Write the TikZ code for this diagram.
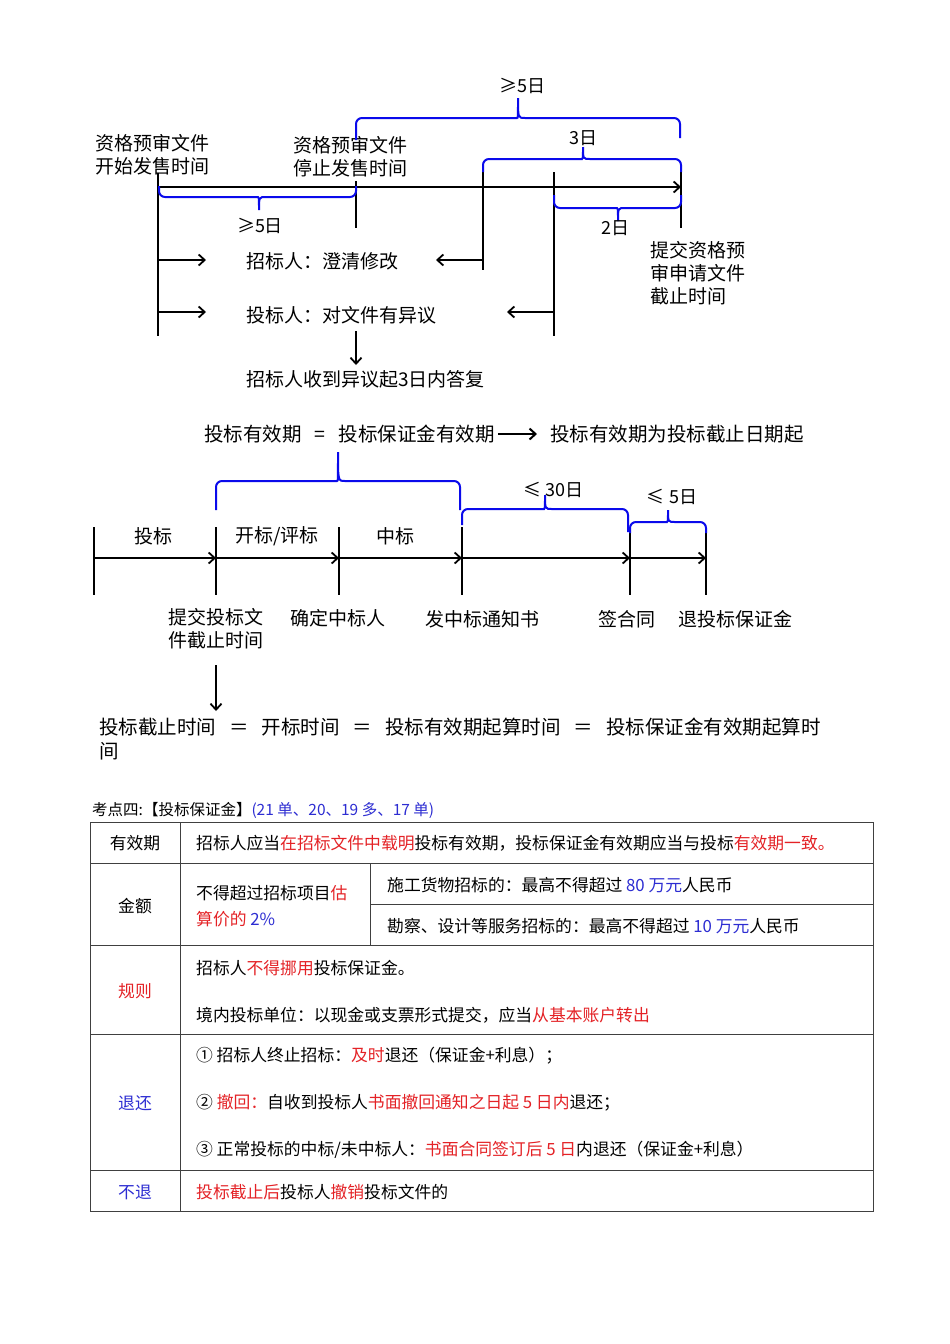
\documentclass[tikz,border=0pt]{standalone}
\usepackage{fontspec}
\setmainfont{Noto Sans CJK SC}
\usetikzlibrary{arrows.meta}
\definecolor{bbl}{RGB}{10,10,235}
\definecolor{tred}{RGB}{228,34,38}
\definecolor{tblue}{RGB}{45,45,210}
\newcommand\dgfont{\fontsize{19}{23}\selectfont}
\newcommand\tbfont{\fontsize{16.8}{26}\selectfont}
\newcommand\redt[1]{\textcolor{tred}{#1}}
\newcommand\bluet[1]{\textcolor{tblue}{#1}}
% brace: x1, x2, xm, yleft, yright, yh, ytip
\newcommand\hbrace[7]{%
  \draw[brc] (#1,#4) -- (#1,#6) -- ({#3-7},#6) [sharp corners] .. controls (#3,#6) .. (#3,#7) .. controls (#3,#6) .. ({#3+7},#6) [rounded corners=6pt] -- (#2,#6) -- (#2,#5);}
\tikzset{
  ln/.style={line width=1.8pt, black},
  arr/.style={ln, -{Straight Barb[length=6pt,width=11pt]}},
  brc/.style={line width=2pt, bbl, rounded corners=6pt},
  dg/.style={inner sep=0pt, font=\dgfont, align=left},
  tb/.style={inner sep=0pt, font=\tbfont, align=left, anchor=west},
  tl/.style={line width=1pt, black!75},
}
\begin{document}
\begin{tikzpicture}[x=1pt,y=-1pt]
\fill[white] (0,0) rectangle (950,1344);
\useasboundingbox (0,0) rectangle (950,1344);

% ================= Diagram 1 =================
\coordinate (a0) at (158,187);
\coordinate (aE) at (681,187);
\draw[arr] (a0) -- (aE);
\draw[ln] (158,173) -- (158,336);
\draw[ln] (356,181) -- (356,228);
\draw[ln] (483,172) -- (483,270);
\draw[ln] (554,172) -- (554,336);
\draw[ln] (681,172) -- (681,228);

\node[dg, anchor=west] (s1) at (95,155) {资格预审文件\\开始发售时间};
\node[dg, anchor=west] (s2) at (293,157) {资格预审文件\\停止发售时间};
\node[dg, anchor=west] (s3) at (650,273) {提交资格预\\审申请文件\\截止时间};

\node[dg, anchor=west] (m1) at (246,261) {招标人：澄清修改};
\node[dg, anchor=west] (m2) at (246,315) {投标人：对文件有异议};
\node[dg, anchor=west] (m3) at (246,379) {招标人收到异议起3日内答复};

\coordinate (r1a) at (158,260); \coordinate (r1b) at (206,260);
\coordinate (r2a) at (158,312); \coordinate (r2b) at (206,312);
\coordinate (l1a) at (483,260); \coordinate (l1b) at (436,260);
\coordinate (l2a) at (554,312); \coordinate (l2b) at (507,312);
\coordinate (d1a) at (356,331); \coordinate (d1b) at (356,365);
\draw[arr] (r1a) -- (r1b);
\draw[arr] (r2a) -- (r2b);
\draw[arr] (l1a) -- (l1b);
\draw[arr] (l2a) -- (l2b);
\draw[arr] (d1a) -- (d1b);

\hbrace{159}{356}{259}{186}{186}{197}{210}
\hbrace{356}{680}{518}{140}{138}{118}{98}
\hbrace{483}{681}{583}{172}{172}{159}{147}
\hbrace{554}{681}{618}{195}{195}{208}{221}

\node[dg, font=\fontsize{18}{20}\selectfont] (b1) at (260,226) {≥5日};
\node[dg, font=\fontsize{18}{20}\selectfont] (b2) at (522,86) {≥5日};
\node[dg, font=\fontsize{18}{20}\selectfont] (b3) at (583,138) {3日};
\node[dg, font=\fontsize{18}{20}\selectfont] (b4) at (615,228) {2日};

% ================= Diagram 2 =================
\node[dg, anchor=west, font=\fontsize{19.5}{23}\selectfont] (h1) at (204,434) {投标有效期\hspace{13pt}=\hspace{13pt}投标保证金有效期};
\node[dg, anchor=west, font=\fontsize{19.5}{23}\selectfont] (h2) at (550,434) {投标有效期为投标截止日期起};
\coordinate (ha) at (498,434); \coordinate (hb) at (537,434);
\draw[arr, line width=2pt] (ha) -- (hb);

\foreach \x in {94,216,339,462} \draw[ln] (\x,527) -- (\x,595);
\foreach \x in {630,706} \draw[ln] (\x,532) -- (\x,595);
\coordinate (p1) at (94,558);
\coordinate (p2) at (216,558);
\coordinate (p3) at (339,558);
\coordinate (p4) at (462,558);
\coordinate (p5) at (630,558);
\coordinate (p6) at (706,558);
\draw[arr] (p1) -- (p2);
\draw[arr] (p2) -- (p3);
\draw[arr] (p3) -- (p4);
\draw[arr] (p4) -- (p5);
\draw[arr] (p5) -- (p6);

\node[dg] (g1) at (153,536) {投标};
\node[dg] (g2) at (277,536) {开标/评标};
\node[dg] (g3) at (395,536) {中标};

\hbrace{216}{460}{338}{510}{510}{481}{452}
\hbrace{462}{628}{545}{525}{532}{509}{495}
\hbrace{630}{706}{668}{533}{533}{522}{510}

\node[dg, font=\fontsize{18}{20}\selectfont] (c1) at (553,490) {≤ 30日};
\node[dg, font=\fontsize{18}{20}\selectfont] (c2) at (672,497) {≤ 5日};

\node[dg, anchor=west] (e1) at (168,629) {提交投标文\\件截止时间};
\node[dg, anchor=west] (e2) at (290,618) {确定中标人};
\node[dg, anchor=west] (e3) at (425,619) {发中标通知书};
\node[dg, anchor=west] (e4) at (598,619) {签合同};
\node[dg, anchor=west] (e5) at (678,619) {退投标保证金};

\coordinate (q1) at (216,665); \coordinate (q2) at (216,711);
\draw[arr] (q1) -- (q2);
\node[dg, anchor=west, font=\fontsize{19.5}{24}\selectfont] (f1) at (99,739)
  {投标截止时间\hspace{13pt}＝\hspace{13pt}开标时间\hspace{13pt}＝\hspace{13pt}投标有效期起算时间\hspace{13pt}＝\hspace{13pt}投标保证金有效期起算时\\间};

% ================= Table =================
\node[inner sep=0pt, anchor=west, font=\fontsize{15.5}{18}\selectfont] (k0) at (92,810)
  {考点四:【投标保证金】\bluet{(21 单、20、19 多、17 单)}};

\draw[tl] (90,822) rectangle (873,1211);
\draw[tl] (180,822) -- (180,1211);
\draw[tl] (90,863) -- (873,863);
\draw[tl] (90,945) -- (873,945);
\draw[tl] (90,1034) -- (873,1034);
\draw[tl] (90,1170) -- (873,1170);
\draw[tl] (370,863) -- (370,945);
\draw[tl] (370,904) -- (873,904);

\node[tb, anchor=center] (k1) at (135,843) {有效期};
\node[tb, anchor=center] (k2) at (135,906) {金额};
\node[tb, anchor=center] (k3) at (135,991) {\redt{规则}};
\node[tb, anchor=center] (k4) at (135,1103) {\bluet{退还}};
\node[tb, anchor=center] (k5) at (135,1192) {\bluet{不退}};

\node[tb] (v1) at (196,843) {招标人应当\redt{在招标文件中载明}投标有效期，投标保证金有效期应当与投标\redt{有效期一致。}};
\node[tb] (v2) at (196,906) {不得超过招标项目\redt{估}\\\redt{算价的} \bluet{2\%}};
\node[tb] (v3) at (387,885) {施工货物招标的：最高不得超过 \bluet{80 万元}人民币};
\node[tb] (v4) at (387,926) {勘察、设计等服务招标的：最高不得超过 \bluet{10 万元}人民币};
\node[tb] (v5) at (196,968) {招标人\redt{不得挪用}投标保证金。};
\node[tb] (v6) at (196,1015) {境内投标单位：以现金或支票形式提交，应当\redt{从基本账户转出}};
\node[tb] (v7) at (196,1056) {① 招标人终止招标：\redt{及时}退还（保证金+利息）；};
\node[tb] (v8) at (196,1103) {② \redt{撤回：}自收到投标人\redt{书面撤回通知之日起 5 日内}退还；};
\node[tb] (v9) at (196,1150) {③ 正常投标的中标/未中标人：\redt{书面合同签订后 5 日}内退还（保证金+利息）};
\node[tb] (v10) at (196,1192) {\redt{投标截止后}投标人\redt{撤销}投标文件的};
\end{tikzpicture}
\end{document}
